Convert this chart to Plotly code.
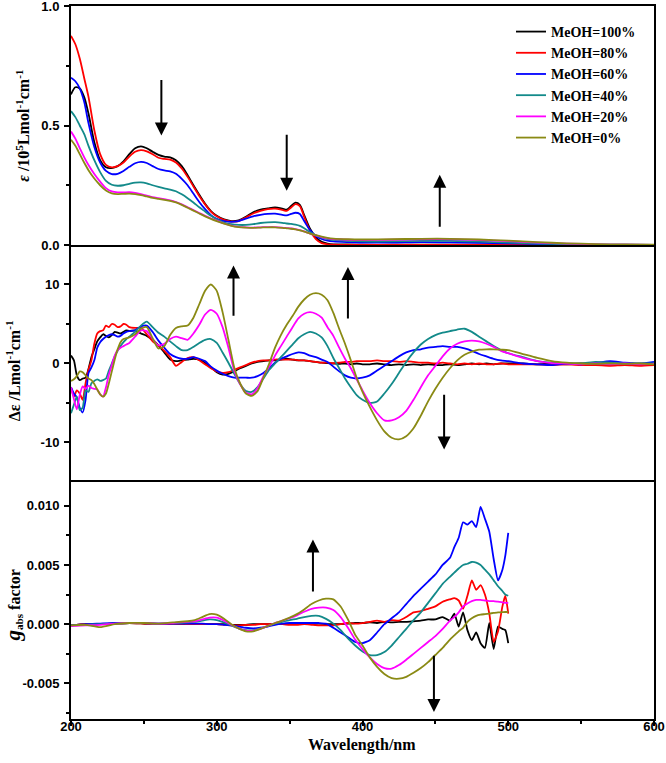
import plotly.graph_objects as go
from plotly.subplots import make_subplots

names = ["MeOH=100%", "MeOH=80%", "MeOH=60%", "MeOH=40%", "MeOH=20%", "MeOH=0%"]
colors = ["#000000", "#ff0000", "#0000ff", "#138a8a", "#ff00ff", "#8a8a14"]

# ---------------- top panel: absorption (10^5 L mol-1 cm-1) ----------------
wl_abs = [200, 203, 206, 209, 212, 216, 220, 224, 228, 232, 236, 240, 244, 248, 252, 256, 260, 264, 268, 272,
          276, 280, 284, 288, 292, 296, 300, 305, 310, 315, 320, 325, 330, 335, 340, 345, 348, 351, 354, 357,
          360, 364, 368, 372, 376, 380, 390, 400, 420, 440, 460, 480, 500, 520, 540, 560, 580, 600]

abs_100 = [0.63, 0.66, 0.655, 0.62, 0.55,
           0.43, 0.355, 0.325, 0.322, 0.33, 0.35, 0.38, 0.405, 0.413, 0.405, 0.39, 0.377, 0.37, 0.367, 0.355, 0.33,
           0.292, 0.25, 0.21, 0.172, 0.142,
           0.122, 0.107, 0.1, 0.103, 0.118, 0.137, 0.148, 0.153, 0.157, 0.152,
           0.148, 0.163, 0.177, 0.168, 0.125,
           0.068, 0.032, 0.013, 0.006, 0.003,
           0.002, 0.001,
           0.001, 0.001, 0.001, 0.001, 0.001, 0.0, 0.0, 0.0, 0.0, 0.0]
abs_80 = [0.875, 0.84, 0.78, 0.70, 0.62,
          0.48, 0.38, 0.335, 0.325, 0.33, 0.345, 0.37, 0.39, 0.397, 0.392, 0.38, 0.365, 0.36, 0.357, 0.345, 0.32,
          0.285, 0.245, 0.205, 0.17, 0.14,
          0.12, 0.105, 0.098, 0.10, 0.115, 0.132, 0.143, 0.15, 0.152, 0.147,
          0.143, 0.157, 0.171, 0.163, 0.118,
          0.06, 0.025, 0.008, 0.003, 0.001,
          0.0, 0.0,
          0.0, 0.0, 0.0, 0.0, 0.0, 0.0, 0.0, 0.0, 0.0, 0.0]
abs_60 = [0.70, 0.685, 0.655, 0.60, 0.51,
          0.41, 0.345, 0.31, 0.297, 0.298, 0.31, 0.327, 0.342, 0.348, 0.343, 0.33, 0.318, 0.312, 0.308, 0.298, 0.277,
          0.25, 0.215, 0.18, 0.15, 0.125,
          0.11, 0.1, 0.097, 0.1, 0.11, 0.12, 0.126, 0.13, 0.131, 0.126,
          0.124, 0.13, 0.135, 0.13, 0.1,
          0.062, 0.038, 0.025, 0.018, 0.015,
          0.012, 0.01,
          0.01, 0.012, 0.011, 0.009, 0.007, 0.004, 0.002, 0.001, 0.001, 0.0]
abs_40 = [0.56, 0.535, 0.50, 0.465, 0.415,
          0.355, 0.305, 0.268, 0.252, 0.248, 0.25, 0.256, 0.261, 0.262, 0.258, 0.25, 0.243, 0.237, 0.232, 0.225, 0.212,
          0.196, 0.178, 0.158, 0.14, 0.122,
          0.107, 0.094, 0.087, 0.084, 0.084, 0.087, 0.092, 0.095, 0.096, 0.093,
          0.09, 0.088, 0.085, 0.08, 0.07,
          0.054, 0.04, 0.031, 0.025, 0.021,
          0.017, 0.015,
          0.015, 0.017, 0.017, 0.014, 0.01, 0.006, 0.003, 0.001, 0.0, 0.0]
abs_20 = [0.475, 0.445, 0.405, 0.368, 0.335,
          0.297, 0.265, 0.238, 0.224, 0.22, 0.22, 0.221, 0.218, 0.213, 0.207, 0.2, 0.196, 0.192, 0.187, 0.18, 0.17,
          0.158, 0.146, 0.134, 0.122, 0.111,
          0.102, 0.09, 0.081, 0.076, 0.074, 0.073, 0.074, 0.075, 0.075, 0.073,
          0.071, 0.069, 0.066, 0.062, 0.057,
          0.048, 0.04, 0.033, 0.028, 0.025,
          0.022, 0.021,
          0.022, 0.024, 0.024, 0.021, 0.016, 0.01, 0.006, 0.003, 0.001, 0.0]
abs_0 = [0.44, 0.415, 0.38, 0.345, 0.313,
         0.278, 0.25, 0.228, 0.216, 0.213, 0.214, 0.215, 0.213, 0.209, 0.203, 0.197, 0.193, 0.189, 0.185, 0.178, 0.168,
         0.156, 0.144, 0.132, 0.12, 0.109,
         0.1, 0.089, 0.08, 0.075, 0.073, 0.072, 0.073, 0.074, 0.074, 0.072,
         0.07, 0.068, 0.065, 0.061, 0.056,
         0.048, 0.041, 0.035, 0.03, 0.027,
         0.024, 0.023,
         0.024, 0.026, 0.026, 0.023, 0.018, 0.012, 0.007, 0.004, 0.002, 0.001]

# ---------------- middle panel: CD (L mol-1 cm-1) ----------------
wl_cd = [200, 202, 204, 206, 208, 210, 212, 214, 216, 218, 220, 222, 224, 226, 228, 230, 232, 234, 236, 238, 240,
         244, 248, 252, 256, 260, 264, 268, 272, 276, 280, 284, 288, 292, 296, 300, 304, 308, 312, 316, 320,
         324, 328, 332, 336, 340, 344, 348, 352, 356, 360, 364, 368, 372, 376, 380, 384, 388, 392, 396, 400,
         405, 410, 415, 420, 425, 430, 435, 440, 445, 450, 455, 460, 465, 470, 475, 480, 485, 490, 495, 500,
         510, 520, 530, 540, 550, 560, 570, 580, 590, 600]

cd_100 = [1.0, 0.4, -1.5, -2.1, -1.9, -1.8, -0.7, 0.8, 1.8, 2.8, 3.3, 3.7, 3.5, 3.3, 3.6, 4.0, 3.9, 3.8, 4.0, 4.2, 4.1,
          4.2, 3.8, 3.5, 3.0, 2.3, 1.4, 0.5, 0.3, 0.4, 0.5,
          0.6, 0.5, 0.1, -0.5, -1.1, -1.4, -1.3, -1.0, -0.6, -0.3,
          0.0, 0.2, 0.3, 0.4, 0.4, 0.5, 0.6, 0.5, 0.4, 0.4,
          0.3, 0.2, 0.1, 0.05, 0.0, -0.05, 0.0, -0.1, 0.0, -0.1,
          -0.1, 0.0, -0.1, -0.2, -0.1, -0.2, -0.1, -0.2, -0.1, -0.2, -0.2, -0.1, -0.2, -0.1, 0.0, -0.1, 0.0, -0.1, 0.0, 0.0,
          0.0, -0.1, 0.0, -0.1, 0.0, -0.1, 0.0, -0.1, -0.1, -0.1]
cd_80 = [-3.0, -4.2, -3.4, -3.8, -4.6, -2.5, -0.8, 0.4, 2.5, 3.8, 4.1, 4.2, 4.8, 4.6, 5.0, 4.9, 4.6, 4.7, 5.0, 4.9, 4.6,
         4.5, 4.5, 3.7, 2.8, 2.3, 1.6, 0.8, -0.3, 0.2, 0.7,
         0.8, 0.4, -0.1, -0.6, -1.0, -1.2, -1.1, -0.8, -0.5, -0.2,
         0.1, 0.3, 0.4, 0.4, 0.5, 0.5, 0.5, 0.5, 0.4, 0.4,
         0.3, 0.2, 0.1, 0.1, 0.05, 0.1, 0.2, 0.2, 0.3, 0.3,
         0.3, 0.4, 0.3, 0.3, 0.2, 0.3, 0.2, 0.1, 0.1, 0.0, 0.1, 0.0, -0.1, 0.0, -0.1, 0.0, -0.1, -0.1, 0.0, -0.1,
         -0.1, -0.1, -0.2, -0.1, -0.2, -0.2, -0.3, -0.2, -0.3, -0.2]
cd_60 = [-3.0, -3.8, -4.3, -5.6, -6.2, -4.6, -1.2, -0.5, 0.4, 2.0, 2.7, 3.1, 3.4, 3.6, 3.7, 3.6, 3.4, 3.5, 3.8, 4.0, 4.1,
         4.2, 4.7, 4.8, 4.0, 2.9, 2.0, 1.2, 0.8, 0.6, 0.6,
         0.8, 0.6, 0.3, -0.4, -0.9, -1.3, -1.6, -1.8, -1.8, -1.8,
         -1.8, -1.6, -1.2, -0.6, 0.1, 0.6, 0.9, 1.2, 1.4, 1.3,
         1.0, 0.8, 0.5, 0.2, -0.4, -1.0, -1.5, -1.8, -1.9, -1.8,
         -1.5, -0.9, -0.3, 0.3, 0.9, 1.4, 1.7, 1.8, 2.0, 2.1, 2.2, 2.1, 2.1, 1.9, 1.6, 1.2, 0.9, 0.6, 0.4, 0.3,
         0.0, -0.1, -0.2, 0.0, -0.1, 0.1, 0.3, 0.1, 0.0, 0.2]
cd_40 = [-6.3, -5.2, -4.2, -5.9, -5.6, -3.4, -3.6, -2.5, -2.2, -2.0, -2.2, -2.1, -1.9, -0.9, 0.0, 0.9, 1.6, 2.2, 2.7, 3.1, 3.4,
         4.0, 4.8, 5.3, 4.6, 3.9, 3.4, 2.8, 2.2, 1.7, 1.7,
         2.1, 2.6, 3.0, 3.1, 2.6, 1.4, 0.1, -1.3, -2.6, -3.5,
         -3.6, -3.0, -1.9, -0.8, 0.0, 0.8, 1.6, 2.4, 3.2, 3.7,
         4.0, 3.8, 3.3, 2.2, 0.7, -0.6, -1.9, -3.0, -4.0, -4.6,
         -5.0, -4.8, -3.8, -2.6, -1.2, 0.2, 1.4, 2.4, 3.1, 3.6, 3.9, 4.1, 4.3, 4.4, 4.0, 3.4, 2.8, 2.2, 1.7, 1.3,
         0.8, 0.3, 0.1, 0.05, 0.0, 0.2, 0.1, 0.0, 0.0, 0.0]
cd_20 = [-3.0, -4.5, -5.8, -4.0, -2.9, -3.2, -2.8, -3.1, -3.2, -3.3, -3.9, -4.2, -3.0, -1.4, -0.2, 1.0, 1.7, 2.0, 2.2, 2.4, 2.6,
         3.4, 4.2, 4.1, 3.1, 2.3, 2.5, 3.1, 3.4, 3.2, 3.0,
         3.8, 4.9, 6.2, 6.8, 6.3, 4.6, 2.0, -0.9, -2.6, -3.7,
         -3.9, -3.1, -1.6, -0.4, 1.0, 2.2, 3.4, 4.6, 5.7, 6.3,
         6.5, 6.3, 5.8, 4.6, 3.5, 2.0, 0.6, -0.6, -2.0, -3.4,
         -5.0, -6.3, -7.2, -7.2, -6.8, -6.0, -4.6, -3.0, -1.5, -0.3, 0.9, 1.9, 2.5, 2.8, 2.9, 2.8, 2.5, 2.1, 1.6, 1.3,
         0.7, 0.3, 0.05, 0.0, -0.1, 0.0, -0.1, 0.0, -0.1, -0.05]
cd_0 = [-2.2, -2.0, -1.6, -1.0, -1.1, -1.5, -1.9, -2.1, -2.6, -3.3, -3.9, -4.2, -3.8, -2.5, -1.0, 0.5, 1.8, 2.7, 3.1, 3.2, 3.3,
        3.7, 4.4, 4.6, 3.2, 1.9, 2.2, 3.6, 4.5, 4.7, 4.8,
        5.8, 7.5, 9.2, 10.0, 9.2, 6.5, 3.0, -0.5, -2.5, -3.8,
        -4.1, -3.5, -1.8, 0.0, 2.0, 3.6, 4.9, 6.0, 7.2, 8.1,
        8.7, 8.9, 8.7, 8.0, 6.4, 4.4, 2.5, 0.4, -1.8, -3.6,
        -5.5, -7.2, -8.6, -9.4, -9.6, -9.2, -8.2, -6.6, -4.8, -3.2, -1.8, -0.6, 0.4, 1.1, 1.5, 1.75, 1.8, 1.8, 1.75, 1.7,
        1.2, 0.7, 0.3, 0.1, 0.0, -0.05, 0.0, -0.05, 0.0, -0.1]

# ---------------- bottom panel: g_abs factor ----------------
wl_g = [200, 210, 220, 230, 240, 250, 260, 270,
        280, 285, 290, 295, 300, 305, 310, 315, 320, 325, 330, 335, 340, 345, 350, 355, 360, 365, 370, 375,
        380, 385, 390, 395, 400, 405, 410, 415, 420, 425, 430, 435, 440, 445, 450, 455, 460,
        463, 466, 469, 472, 475, 478, 481, 484, 487, 490, 493, 496, 498, 500]

g_100 = [-0.0001, 0.0, 0.0, 0.00005, 0.0001, 0.00005, 0.0, 0.00005,
         0.0, 0.0, 0.0, 0.0, 0.0, 0.0, -0.00005, -0.00005, -0.00005, 0.0,
         0.0, 0.0, 0.0, 0.0, 0.0, 0.0, 0.00005, 0.0, 0.00005, 0.0,
         0.0, 0.0, 0.00005, 0.0001, 0.0001, 0.00015, 0.0001, 0.0002, 0.00015, 0.0002,
         0.0002, 0.00025, 0.0003, 0.0004, 0.0004, 0.0006, 0.0003,
         0.0009, -0.0002, 0.001, -0.0005, -0.00135, -0.0007, -0.0016, -0.002, 0.0001, -0.0021, -0.0002, -0.0004, -0.0005, -0.0016]
g_80 = [-0.0001, 0.0, 0.0, 0.00005, 0.0001, 0.00005, 0.0, 0.00005,
        0.0, 0.0, 0.0, 0.0, 0.0, -0.00005, -0.0001, -0.0001, -0.00005, -0.00005,
        0.0, 0.0, 0.0, 0.0, -0.00005, -0.00005, 0.0, -0.00005, -0.0001, -0.0001,
        -0.0001, 0.0, 0.0001, 0.00005, 0.0001, 0.0002, 0.0003, 0.0002, 0.00035, 0.0003,
        0.0006, 0.001, 0.0011, 0.0013, 0.0015, 0.0019, 0.0021,
        0.0022, 0.002, 0.0013, 0.0024, 0.0037, 0.0029, 0.0033, 0.0025, 0.0009, -0.0015, -0.0006, 0.0015, 0.0024, 0.0009]
g_60 = [-0.0001, 0.0, 0.00005, 0.0001, 0.0001, 0.0001, 0.00005, 0.00005,
        0.00005, 0.00005, 0.00005, 0.0, 0.0, -0.00005, -0.0001, -0.0002, -0.0003, -0.00035,
        -0.0003, -0.0002, -0.00005, 0.00005, 0.0001, 0.0001, 0.0001, 0.0001, 0.0001, 0.00005,
        -0.0003, -0.0007, -0.0011, -0.0015, -0.0016, -0.00135, -0.0007, 0.0, 0.0005, 0.001,
        0.0017, 0.0024, 0.003, 0.0036, 0.0042, 0.005, 0.0056,
        0.0065, 0.0073, 0.0086, 0.0084, 0.0087, 0.0082, 0.0099, 0.0089, 0.0078, 0.0055, 0.0037, 0.0046, 0.0058, 0.0077]
g_40 = [-0.0001, -0.00005, 0.0, 0.00005, 0.0001, 0.0001, 0.00005, 0.0001,
        0.00015, 0.0002, 0.0003, 0.0004, 0.00035, 0.00015, -0.0001, -0.00035, -0.0005, -0.0005,
        -0.00035, -0.00015, 0.00005, 0.0002, 0.00035, 0.00045, 0.0006, 0.0007, 0.0007, 0.00045,
        0.00005, -0.0005, -0.0012, -0.0018, -0.0023, -0.0026, -0.0026, -0.00235, -0.0018, -0.0011,
        -0.0004, 0.00035, 0.001, 0.0018, 0.0026, 0.0034, 0.004,
        0.00435, 0.0047, 0.005, 0.0051, 0.00525, 0.0052, 0.005, 0.0046, 0.0042, 0.0037, 0.0032, 0.0028, 0.0025, 0.0024]
g_20 = [-0.00015, -0.0001, -0.00005, 0.00005, 0.0001, 0.0001, 0.00005, 0.0001,
        0.0002, 0.00025, 0.0004, 0.00055, 0.00055, 0.0003, -0.00005, -0.00035, -0.00055, -0.00055,
        -0.0004, -0.00015, 0.0001, 0.0003, 0.0005, 0.00075, 0.00105, 0.0013, 0.0014, 0.0014,
        0.0012, 0.0006, -0.0003, -0.0013, -0.0021, -0.0028, -0.00335, -0.0037, -0.00375, -0.00345,
        -0.003, -0.0025, -0.002, -0.0015, -0.001, -0.0004, 0.0003,
        0.0006, 0.001, 0.0015, 0.00175, 0.00195, 0.00205, 0.00205, 0.002, 0.00195, 0.00195, 0.0019, 0.00185, 0.0018, 0.0018]
g_0 = [-0.0001, -0.00005, -0.00025, 0.0, 0.0001, 0.0001, 0.00005, 0.00015,
       0.00025, 0.00035, 0.0006, 0.00085, 0.0008, 0.00045, 0.0, -0.00035, -0.0006, -0.0006,
       -0.0004, -0.00015, 0.0001, 0.0003, 0.00055, 0.00085, 0.00125, 0.0017, 0.002, 0.00215,
       0.0021, 0.0015, 0.0004, -0.0009, -0.0018, -0.0028, -0.0036, -0.0042, -0.00455, -0.0046,
       -0.00445, -0.0041, -0.0037, -0.0032, -0.0026, -0.002, -0.0013,
       -0.00095, -0.0006, -0.0003, 0.0002, 0.0005, 0.0007, 0.0008, 0.00085, 0.0009, 0.00095, 0.001, 0.00102, 0.00103, 0.00105]

abs_series = [abs_100, abs_80, abs_60, abs_40, abs_20, abs_0]
cd_series = [cd_100, cd_80, cd_60, cd_40, cd_20, cd_0]
g_series = [g_100, g_80, g_60, g_40, g_20, g_0]

# tick labels
x_ticks = [200, 300, 400, 500, 600]
x_ticktext = ["200", "300", "400", "500", "600"]
y1_ticks = [0.0, 0.5, 1.0]
y1_ticktext = ["0.0", "0.5", "1.0"]
y2_ticks = [-10, 0, 10]
y2_ticktext = ["-10", "0", "10"]
y3_ticks = [-0.005, 0.0, 0.005, 0.010]
y3_ticktext = ["-0.005", "0.000", "0.005", "0.010"]

fig = make_subplots(rows=3, cols=1, shared_xaxes=True, vertical_spacing=0)

for i in range(6):
    fig.add_trace(go.Scatter(x=wl_abs, y=abs_series[i], mode="lines", name=names[i],
                             legendgroup=names[i],
                             line=dict(color=colors[i], width=1.8, shape="spline", smoothing=0.8)),
                  row=1, col=1)
    fig.add_trace(go.Scatter(x=wl_cd, y=cd_series[i], mode="lines", name=names[i],
                             legendgroup=names[i], showlegend=False,
                             line=dict(color=colors[i], width=1.8, shape="spline", smoothing=0.6)),
                  row=2, col=1)
    fig.add_trace(go.Scatter(x=wl_g, y=g_series[i], mode="lines", name=names[i],
                             legendgroup=names[i], showlegend=False,
                             line=dict(color=colors[i], width=1.8, shape="spline", smoothing=0.5)),
                  row=3, col=1)

tickfont = dict(family="Liberation Sans", size=13, color="black", weight="bold")
axis_common = dict(linecolor="black", linewidth=2, showgrid=False, zeroline=False, automargin=False,
                   ticklabeloverflow="allow")

fig.update_xaxes(range=[200, 600], **axis_common)
fig.update_xaxes(ticks="", showticklabels=False, showline=True, mirror=True, row=1, col=1)
fig.update_xaxes(ticks="", showticklabels=False, showline=False, row=2, col=1)
fig.update_xaxes(ticks="outside", ticklen=5, tickwidth=2, tickcolor="black",
                 tickmode="array", tickvals=x_ticks, ticktext=x_ticktext, tickfont=tickfont,
                 ticklabelstandoff=-11, showline=True, mirror=True,
                 minor=dict(ticks="outside", ticklen=3, tickwidth=2, tickcolor="black",
                            tickvals=[250, 350, 450, 550]),
                 showticklabels=True, row=3, col=1)

fig.update_yaxes(showline=True, mirror=True, **axis_common)
fig.update_yaxes(range=[0, 1.0], domain=[0.6648, 1.0], ticks="outside", ticklen=5, tickwidth=2,
                 tickcolor="black", tickmode="array", tickvals=y1_ticks, ticktext=y1_ticktext,
                 tickfont=tickfont, ticklabelstandoff=2,
                 minor=dict(ticks="outside", ticklen=3, tickwidth=2, tickcolor="black",
                            tickvals=[0.25, 0.75]),
                 row=1, col=1)
fig.update_yaxes(range=[-15, 15], domain=[0.3324, 0.6648], ticks="outside", ticklen=5, tickwidth=2,
                 tickcolor="black", tickmode="array", tickvals=y2_ticks, ticktext=y2_ticktext,
                 tickfont=tickfont, ticklabelstandoff=2,
                 minor=dict(ticks="outside", ticklen=3, tickwidth=2, tickcolor="black",
                            tickvals=[-5, 5]),
                 row=2, col=1)
fig.update_yaxes(range=[-0.008, 0.012], domain=[0.0, 0.3324], ticks="outside", ticklen=5, tickwidth=2,
                 tickcolor="black", tickmode="array", tickvals=y3_ticks, ticktext=y3_ticktext,
                 tickfont=tickfont, ticklabelstandoff=2,
                 minor=dict(ticks="outside", ticklen=3, tickwidth=2, tickcolor="black",
                            tickvals=[-0.0075, -0.0025, 0.0025, 0.0075]),
                 row=3, col=1)

titlefont = dict(family="Liberation Serif", size=16, color="black", weight="bold")
annotations = [
    dict(text="<i>ε</i> /10<sup>5</sup>Lmol<sup>-1</sup>cm<sup>-1</sup>", xref="paper", yref="paper",
         x=-0.083, y=0.833, textangle=-90, showarrow=False, font=titlefont,
         xanchor="center", yanchor="middle"),
    dict(text="Δε /Lmol<sup>-1</sup>cm<sup>-1</sup>", xref="paper", yref="paper",
         x=-0.099, y=0.488, textangle=-90, showarrow=False, font=titlefont,
         xanchor="center", yanchor="middle"),
    dict(text="<i><span style='font-size:21px'>g</span></i><sub>abs</sub> factor", xref="paper", yref="paper",
         x=-0.1, y=0.16, textangle=-90, showarrow=False, font=titlefont,
         xanchor="center", yanchor="middle"),
    dict(text="Wavelength/nm", xref="paper", yref="paper", x=0.499, y=-0.0365,
         showarrow=False, font=titlefont, xanchor="center", yanchor="middle"),
]

# arrows: (xref, yref, x_tail, y_tail, x_head, y_head)
arrows = [
    ("x", "y", 262, 0.697, 262, 0.458),
    ("x", "y", 348, 0.468, 348, 0.227),
    ("x", "y", 453, 0.07, 453, 0.294),
    ("x2", "y2", 311.5, 5.86, 311.5, 12.4),
    ("x2", "y2", 390, 5.5, 390, 12.2),
    ("x2", "y2", 456, -3.75, 456, -10.9),
    ("x3", "y3", 366, 0.00264, 366, 0.00714),
    ("x3", "y3", 449, -0.00253, 449, -0.0074),
]
for xr, yr, xt, yt, xh, yh in arrows:
    annotations.append(dict(text="", xref=xr, yref=yr, axref=xr, ayref=yr, x=xh, y=yh, ax=xt, ay=yt,
                            showarrow=True, arrowhead=2, arrowsize=1.3, arrowwidth=2,
                            arrowcolor="black"))

fig.update_layout(
    width=666, height=763,
    margin=dict(l=71, r=12, t=6, b=44, autoexpand=False),
    paper_bgcolor="white", plot_bgcolor="white",
    annotations=annotations,
    legend=dict(x=0.7547, y=0.986, xanchor="left", yanchor="top", bgcolor="rgba(0,0,0,0)",
                font=dict(family="Liberation Serif", size=14, color="black", weight="bold"),
                itemwidth=30, tracegroupgap=0),
    showlegend=True,
)

fig.write_html("out.html", config={"displayModeBar": False},
               post_script="document.body.style.margin='0';document.body.style.padding='0';")
